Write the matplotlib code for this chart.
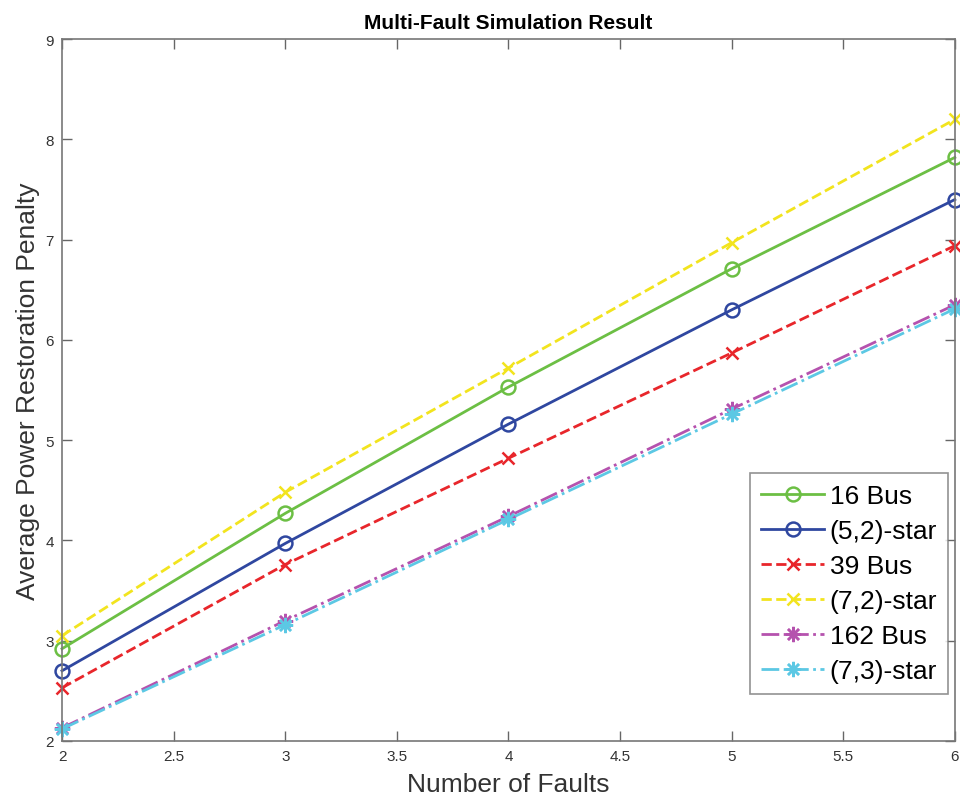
import matplotlib
matplotlib.use("Agg")
import matplotlib.pyplot as plt

plt.rcParams['font.family'] = ['Liberation Sans', 'DejaVu Sans']

faults = [2, 3, 4, 5, 6]
bus16 = [2.92, 4.27, 5.53, 6.71, 7.82]
star52 = [2.70, 3.97, 5.16, 6.30, 7.40]
bus39 = [2.53, 3.76, 4.82, 5.87, 6.94]
star72 = [3.05, 4.48, 5.72, 6.97, 8.20]
bus162 = [2.13, 3.20, 4.24, 5.31, 6.35]
star73 = [2.12, 3.16, 4.21, 5.26, 6.31]

labels = ['16 Bus', '(5,2)-star', '39 Bus', '(7,2)-star', '162 Bus', '(7,3)-star']
xticks = [2, 2.5, 3, 3.5, 4, 4.5, 5, 5.5, 6]
yticks = [2, 3, 4, 5, 6, 7, 8, 9]

fig = plt.figure(figsize=(9.6, 8.03), dpi=100)
ax = fig.add_axes([0.0646, 0.076, 0.930, 0.874])

styles = [
    (bus16, '#6cbf44', '-', 'o'),
    (star52, '#2f47a0', '-', 'o'),
    (bus39, '#e8262b', '--', 'x'),
    (star72, '#f2e41e', '--', 'x'),
    (bus162, '#b552ae', '-.', (8, 2, 0)),
    (star73, '#5cc8e4', '-.', (8, 2, 0)),
]
for (vals, c, ls, m), lab in zip(styles, labels):
    ms = 10 if m == 'o' else (8 if m == 'x' else 11)
    ax.plot(faults, vals, color=c, linestyle=ls, marker=m, markersize=ms,
            markerfacecolor='none' if m == 'o' else c, markeredgewidth=1.8,
            linewidth=2, label=lab, clip_on=False)

ax.set_xlim(2, 6)
ax.set_ylim(2, 9)
ax.set_xticks(xticks)
ax.set_xticklabels([('%g' % t) for t in xticks])
ax.set_yticks(yticks)
ax.tick_params(direction='in', top=True, right=True, length=7, width=1,
               color='#666666', labelsize=11, labelcolor='#333333', pad=6)
for s in ax.spines.values():
    s.set_color('#777777')
    s.set_linewidth(1.2)

ax.set_xlabel('Number of Faults', fontsize=19, color='#333333', labelpad=6)
ax.set_ylabel('Average Power Restoration Penalty', fontsize=19, color='#333333', labelpad=4)
ax.set_title('Multi-Fault Simulation Result', fontsize=15, fontweight='bold', pad=8)

leg = ax.legend(loc='lower right', bbox_to_anchor=(0.992, 0.067), fontsize=19,
                frameon=True, fancybox=False, edgecolor='#777777',
                handlelength=2.4, handletextpad=0.2, borderaxespad=0.0,
                labelspacing=0.42, borderpad=0.4)
leg.get_frame().set_linewidth(1.2)

fig.savefig('out.png', dpi=100)
